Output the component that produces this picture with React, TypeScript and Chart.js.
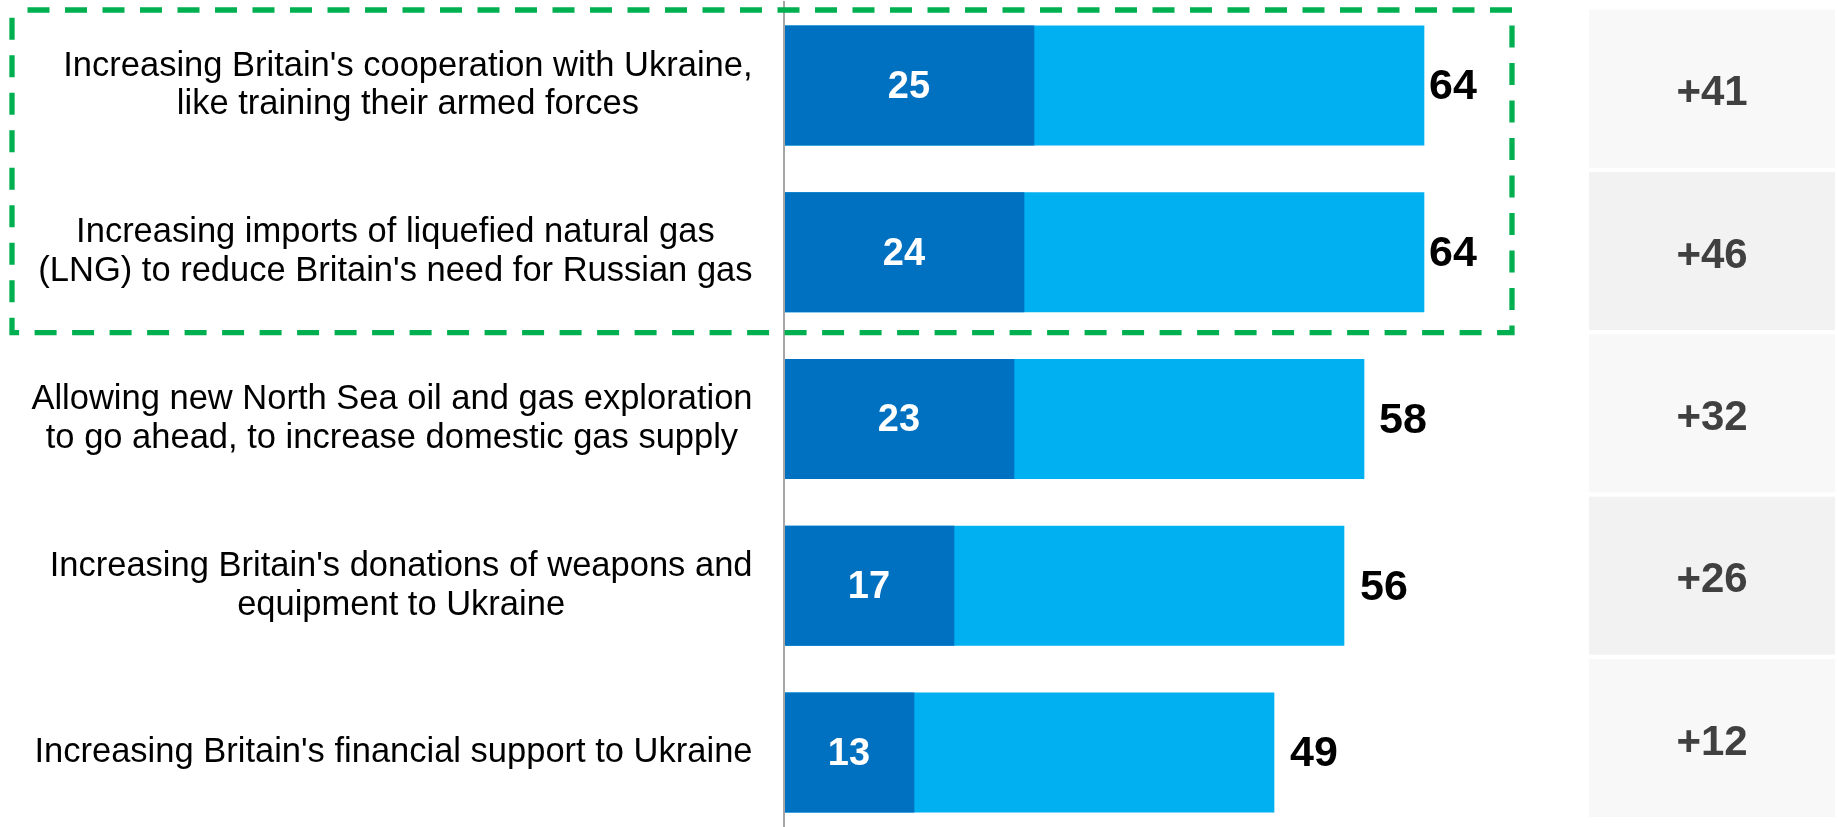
import React, { useEffect, useRef } from 'react';
import { Chart, registerables } from 'chart.js';

Chart.register(...registerables);

// ---------- data ----------
const CATEGORIES: string[][] = [
  ["Increasing Britain's cooperation with Ukraine,", 'like training their armed forces'],
  ['Increasing imports of liquefied natural gas', "(LNG) to reduce Britain's need for Russian gas"],
  ['Allowing new North Sea oil and gas exploration', 'to go ahead, to increase domestic gas supply'],
  ["Increasing Britain's donations of weapons and", 'equipment to Ukraine'],
  ["Increasing Britain's financial support to Ukraine"],
];
const STRONGLY_SUPPORT = [25, 24, 23, 17, 13];
const TOTAL_SUPPORT = [64, 64, 58, 56, 49];
const NET_SUPPORT = [41, 46, 32, 26, 12];

// ---------- styles ----------
const FONT = '"Liberation Sans", Arial, Helvetica, sans-serif';
const DARK_BLUE = '#0070C0';
const LIGHT_BLUE = '#00B0F0';
const AXIS_GREY = '#A6A6A6';
const HIGHLIGHT_GREEN = '#00B050';
const TOTAL_LABEL_GAP = [5, 5, 15, 16, 16];
const HIGHLIGHT_FIRST = 0;
const HIGHLIGHT_LAST = 1;

const labelsPlugin = {
  id: 'barLabels',
  afterDraw(chart: any) {
    const { ctx } = chart;
    const xs = chart.scales.x;
    const ys = chart.scales.y;
    const pitch = ys.getPixelForValue(1) - ys.getPixelForValue(0);
    ctx.save();

    // category labels (centred block, right edge aligned)
    ctx.font = `34.5px ${FONT}`;
    ctx.fillStyle = '#000000';
    ctx.textAlign = 'center';
    ctx.textBaseline = 'middle';
    const labelRight = xs.left - 31.5;
    const lineH = 38.8;
    CATEGORIES.forEach((lines, i) => {
      const cy = ys.getPixelForValue(i);
      const widest = Math.max(...lines.map((l) => ctx.measureText(l).width));
      const cx = labelRight - widest / 2;
      lines.forEach((l, j) => {
        ctx.fillText(l, cx, cy + (j - (lines.length - 1) / 2) * lineH);
      });
    });

    // strongly-support values (white, inside dark segment)
    ctx.font = `bold 38px ${FONT}`;
    ctx.fillStyle = '#FFFFFF';
    ctx.textAlign = 'center';
    STRONGLY_SUPPORT.forEach((v, i) => {
      const cy = ys.getPixelForValue(i);
      const cx = (xs.getPixelForValue(0) + xs.getPixelForValue(v)) / 2;
      ctx.fillText(String(v), cx, cy + 2);
    });

    // total values (black, after bar)
    ctx.font = `bold 43px ${FONT}`;
    ctx.fillStyle = '#000000';
    ctx.textAlign = 'left';
    TOTAL_SUPPORT.forEach((v, i) => {
      const cy = ys.getPixelForValue(i);
      ctx.fillText(String(v), xs.getPixelForValue(v) + TOTAL_LABEL_GAP[i], cy + 2);
    });

    // dashed highlight box around first two items
    const left = 12;
    const right = xs.right - 72;
    const top = ys.getPixelForValue(HIGHLIGHT_FIRST) - pitch / 2 + 8;
    const bottom = ys.getPixelForValue(HIGHLIGHT_LAST) + pitch / 2 - 3;
    ctx.strokeStyle = HIGHLIGHT_GREEN;
    ctx.lineWidth = 5.3;
    ctx.setLineDash([22, 15.5]);
    ctx.lineDashOffset = 22;
    ctx.beginPath();
    ctx.moveTo(left, top);
    ctx.lineTo(right, top);
    ctx.lineTo(right, bottom);
    ctx.lineTo(left, bottom);
    ctx.closePath();
    ctx.stroke();
    ctx.restore();
  },
};

const netPlugin = {
  id: 'netCells',
  afterDraw(chart: any) {
    const { ctx, chartArea } = chart;
    const ys = chart.scales.y;
    const pitch = ys.getPixelForValue(1) - ys.getPixelForValue(0);
    const h = pitch * 0.9735;
    ctx.save();
    NET_SUPPORT.forEach((v, i) => {
      const cy = ys.getPixelForValue(i);
      ctx.fillStyle = i % 2 === 0 ? '#F8F8F8' : '#F2F2F2';
      ctx.fillRect(chartArea.left, cy - h / 2, chartArea.right - chartArea.left, h);
      ctx.font = `bold 42px ${FONT}`;
      ctx.fillStyle = '#404040';
      ctx.textAlign = 'center';
      ctx.textBaseline = 'middle';
      ctx.fillText(`+${v}`, (chartArea.left + chartArea.right) / 2, cy + 5);
    });
    ctx.restore();
  },
};

export default function App() {
  const mainRef = useRef<HTMLCanvasElement>(null);
  const netRef = useRef<HTMLCanvasElement>(null);

  useEffect(() => {
    const main = new Chart(mainRef.current as HTMLCanvasElement, {
      type: 'bar',
      data: {
        labels: CATEGORIES.map((c) => c.join(' ')),
        datasets: [
          {
            label: 'Strongly support',
            data: STRONGLY_SUPPORT,
            backgroundColor: DARK_BLUE,
            borderWidth: 0,
            grouped: false,
            barThickness: 119.3,
          } as any,
          {
            label: 'Total support',
            data: TOTAL_SUPPORT,
            backgroundColor: LIGHT_BLUE,
            borderWidth: 0,
            grouped: false,
            barThickness: 119.3,
          } as any,
        ],
      },
      options: {
        indexAxis: 'y',
        responsive: false,
        animation: false,
        devicePixelRatio: 1,
        events: [],
        layout: { padding: { left: 784, right: 5, top: 2, bottom: 0 } },
        scales: {
          x: { type: 'linear', min: 0, max: 80, display: false },
          y: {
            type: 'category',
            grid: { display: false, drawTicks: false, tickLength: 0 },
            ticks: { display: false },
            border: { display: true, color: AXIS_GREY, width: 2, z: 1 },
          },
        },
        plugins: { legend: { display: false }, tooltip: { enabled: false } },
      },
      plugins: [labelsPlugin],
    } as any);

    const net = new Chart(netRef.current as HTMLCanvasElement, {
      type: 'bar',
      data: {
        labels: NET_SUPPORT.map((v) => `+${v}`),
        datasets: [],
      },
      options: {
        indexAxis: 'y',
        responsive: false,
        animation: false,
        devicePixelRatio: 1,
        events: [],
        layout: { padding: { left: 0, right: 0, top: 7.65, bottom: 7.85 } },
        scales: {
          x: { type: 'linear', display: false },
          y: { type: 'category', display: false },
        },
        plugins: { legend: { display: false }, tooltip: { enabled: false } },
      },
      plugins: [netPlugin],
    } as any);

    return () => {
      main.destroy();
      net.destroy();
    };
  }, []);

  return (
    <div
      style={{
        position: 'fixed',
        left: 0,
        top: 0,
        width: 1837,
        height: 827,
        overflow: 'hidden',
        background: '#ffffff',
      }}
    >
      <canvas
        ref={mainRef}
        width={1589}
        height={836}
        style={{ position: 'absolute', left: 0, top: 0, width: 1589, height: 836 }}
      />
      <canvas
        ref={netRef}
        width={246}
        height={827}
        style={{ position: 'absolute', left: 1589, top: 0, width: 246, height: 827 }}
      />
    </div>
  );
}
